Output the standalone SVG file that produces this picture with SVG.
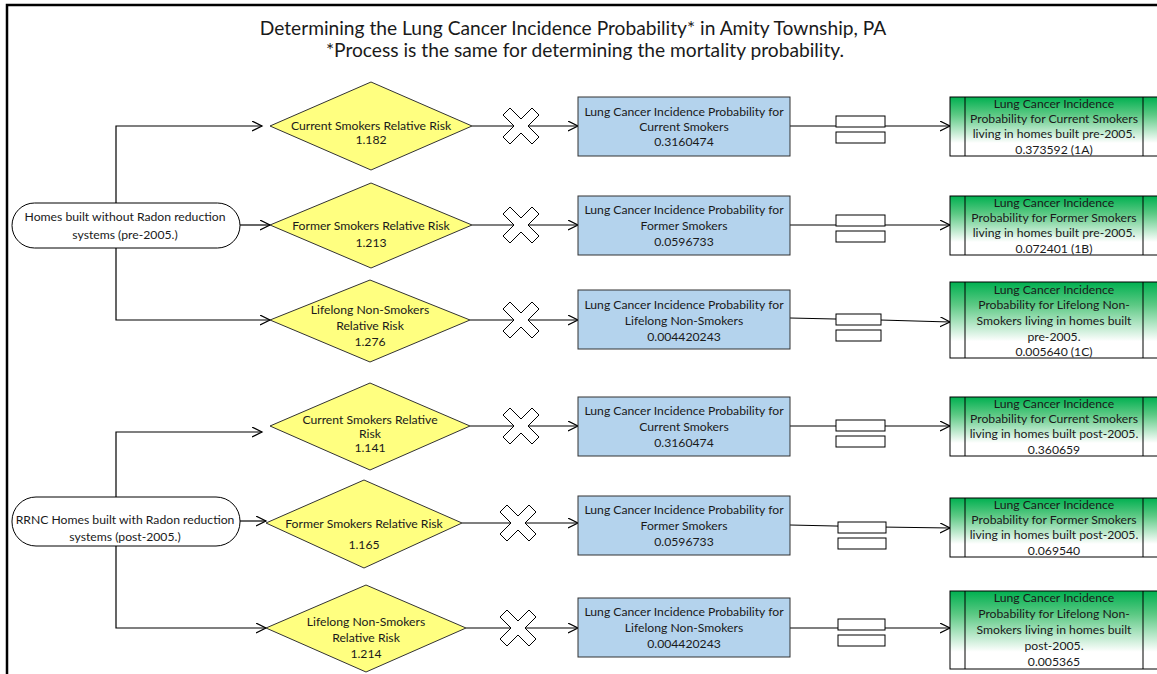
<svg xmlns="http://www.w3.org/2000/svg" width="1157" height="674" viewBox="0 0 1157 674">
<style>
text{font-family:Lato,"Liberation Sans",sans-serif;fill:#1a1a1a;text-anchor:middle}
.t{font-size:19.2px}
.n{font-size:12.2px}
.pill{fill:#fff;stroke:#000;stroke-width:1}
.dia{fill:#ffff80;stroke:#333;stroke-width:1}
.blue{fill:#b4d3ed;stroke:#333;stroke-width:1}
.green{fill:url(#gg);stroke:#000;stroke-width:1}
.gl{stroke:#000;stroke-width:1}
.c{fill:none;stroke:#000;stroke-width:1.2}
.ca{fill:none;stroke:#000;stroke-width:1.2;marker-end:url(#ar)}
.x{fill:#fff;stroke:#000;stroke-width:1}
.eq{fill:#fff;stroke:#000;stroke-width:1}
</style>
<defs>
<linearGradient id="gg" x1="0" y1="0" x2="0" y2="1">
<stop offset="0" stop-color="#00b050"/>
<stop offset="0.3" stop-color="#5cc984"/>
<stop offset="0.78" stop-color="#ffffff"/>
</linearGradient>
<marker id="ar" markerUnits="userSpaceOnUse" markerWidth="12" markerHeight="12" refX="10" refY="5" orient="auto">
<path d="M0,0 L10,5 L0,10" fill="none" stroke="#000" stroke-width="1.2"/>
</marker>
<polygon id="xs" points="-18,-11 -11,-18 0,-7 11,-18 18,-11 7,0 18,11 11,18 0,7 -11,18 -18,11 -7,0"/>
</defs>
<rect width="1157" height="674" fill="#fff"/>
<path d="M7,674 V5 H1157" fill="none" stroke="#000" stroke-width="2.5"/>
<g id="title">
<text class="t" x="573" y="35">Determining the Lung Cancer Incidence Probability* in Amity Township, PA</text>
<text class="t" x="585" y="57">*Process is the same for determining the mortality probability.</text>
</g>
<g id="connectors">
<path class="ca" d="M116,203 V126 H262"/>
<path class="ca" d="M240,225 H270"/>
<path class="ca" d="M116,248 V320 H270"/>
<path class="ca" d="M116,497 V432 H262"/>
<path class="ca" d="M240,521 H266"/>
<path class="ca" d="M116,546 V628 H266"/>
<path class="ca" d="M472,126 H578"/>
<path class="ca" d="M472,225 H578"/>
<path class="ca" d="M470,320 H578"/>
<path class="ca" d="M470,426 H578"/>
<path class="ca" d="M462,523 H578"/>
<path class="ca" d="M466,628 H578"/>
<path class="ca" d="M790,126 H950"/>
<path class="ca" d="M790,225 H950"/>
<path class="ca" d="M790,318 L880,320 L950,322"/>
<path class="ca" d="M790,426 H950"/>
<path class="ca" d="M790,525 L880,527 L950,528"/>
<path class="ca" d="M790,628 H950"/>
</g>
<g id="operators">
<use href="#xs" class="x" x="521" y="126"/>
<use href="#xs" class="x" x="521" y="225"/>
<use href="#xs" class="x" x="521" y="320"/>
<use href="#xs" class="x" x="521" y="426"/>
<use href="#xs" class="x" x="518" y="523"/>
<use href="#xs" class="x" x="518" y="628"/>
<g id="eq1"><rect class="eq" x="836" y="116" width="49" height="11"/><rect class="eq" x="836" y="132" width="49" height="11"/></g>
<g id="eq2"><rect class="eq" x="836" y="215" width="49" height="11"/><rect class="eq" x="836" y="231" width="49" height="11"/></g>
<g id="eq3"><rect class="eq" x="836" y="314" width="45" height="11"/><rect class="eq" x="836" y="330" width="45" height="11"/></g>
<g id="eq4"><rect class="eq" x="836" y="420" width="49" height="11"/><rect class="eq" x="836" y="436" width="49" height="11"/></g>
<g id="eq5"><rect class="eq" x="838" y="522" width="48" height="11"/><rect class="eq" x="838" y="538" width="48" height="11"/></g>
<g id="eq6"><rect class="eq" x="838" y="619" width="47" height="11"/><rect class="eq" x="838" y="635" width="47" height="11"/></g>
</g>
<g id="pill1">
<rect class="pill" x="12" y="203" width="228" height="45" rx="22.5"/>
<text class="n" x="125" y="221">Homes built without Radon reduction</text>
<text class="n" x="125" y="239">systems (pre-2005.)</text>
</g>
<g id="pill2">
<rect class="pill" x="12" y="497" width="228" height="49" rx="24"/>
<text class="n" x="125" y="524">RRNC Homes built with Radon reduction</text>
<text class="n" x="125" y="541">systems (post-2005.)</text>
</g>
<g id="d1">
<polygon class="dia" points="270,126 371,82 472,126 371,170"/>
<text class="n" x="371" y="130">Current Smokers Relative Risk</text>
<text class="n" x="371" y="144">1.182</text>
</g>
<g id="d2">
<polygon class="dia" points="270,225 371,183 472,225 371,268"/>
<text class="n" x="371" y="230">Former Smokers Relative Risk</text>
<text class="n" x="371" y="247">1.213</text>
</g>
<g id="d3">
<polygon class="dia" points="270,320 370,280 470,320 370,362"/>
<text class="n" x="370" y="314">Lifelong Non-Smokers</text>
<text class="n" x="370" y="330">Relative Risk</text>
<text class="n" x="370" y="346">1.276</text>
</g>
<g id="d4">
<polygon class="dia" points="270,426 370,383 470,426 370,470"/>
<text class="n" x="370" y="424">Current Smokers Relative</text>
<text class="n" x="370" y="438">Risk</text>
<text class="n" x="370" y="452">1.141</text>
</g>
<g id="d5">
<polygon class="dia" points="266,523 364,480 462,523 364,568"/>
<text class="n" x="364" y="528">Former Smokers Relative Risk</text>
<text class="n" x="364" y="549">1.165</text>
</g>
<g id="d6">
<polygon class="dia" points="266,628 366,585 466,628 366,672"/>
<text class="n" x="366" y="626">Lifelong Non-Smokers</text>
<text class="n" x="366" y="642">Relative Risk</text>
<text class="n" x="366" y="658">1.214</text>
</g>
<g id="b1">
<rect class="blue" x="578" y="97" width="212" height="59"/>
<text class="n" x="684" y="116">Lung Cancer Incidence Probability for</text>
<text class="n" x="684" y="131">Current Smokers</text>
<text class="n" x="684" y="146">0.3160474</text>
</g>
<g id="b2">
<rect class="blue" x="578" y="196" width="212" height="59"/>
<text class="n" x="684" y="214">Lung Cancer Incidence Probability for</text>
<text class="n" x="684" y="230">Former Smokers</text>
<text class="n" x="684" y="246">0.0596733</text>
</g>
<g id="b3">
<rect class="blue" x="578" y="290" width="212" height="59"/>
<text class="n" x="684" y="309">Lung Cancer Incidence Probability for</text>
<text class="n" x="684" y="325">Lifelong Non-Smokers</text>
<text class="n" x="684" y="341">0.004420243</text>
</g>
<g id="b4">
<rect class="blue" x="578" y="397" width="212" height="59"/>
<text class="n" x="684" y="415">Lung Cancer Incidence Probability for</text>
<text class="n" x="684" y="431">Current Smokers</text>
<text class="n" x="684" y="447">0.3160474</text>
</g>
<g id="b5">
<rect class="blue" x="578" y="496" width="212" height="59"/>
<text class="n" x="684" y="514">Lung Cancer Incidence Probability for</text>
<text class="n" x="684" y="530">Former Smokers</text>
<text class="n" x="684" y="546">0.0596733</text>
</g>
<g id="b6">
<rect class="blue" x="578" y="598" width="212" height="59"/>
<text class="n" x="684" y="616">Lung Cancer Incidence Probability for</text>
<text class="n" x="684" y="632">Lifelong Non-Smokers</text>
<text class="n" x="684" y="648">0.004420243</text>
</g>
<g id="g1">
<rect class="green" x="950" y="97" width="212" height="59"/>
<path class="gl" d="M965,97 V156 M1143,97 V156"/>
<text class="n" x="1054" y="108">Lung Cancer Incidence</text>
<text class="n" x="1054" y="123">Probability for Current Smokers</text>
<text class="n" x="1054" y="138">living in homes built pre-2005.</text>
<text class="n" x="1054" y="154">0.373592 (1A)</text>
</g>
<g id="g2">
<rect class="green" x="950" y="196" width="212" height="59"/>
<path class="gl" d="M965,196 V255 M1143,196 V255"/>
<text class="n" x="1054" y="207">Lung Cancer Incidence</text>
<text class="n" x="1054" y="222">Probability for Former Smokers</text>
<text class="n" x="1054" y="237">living in homes built pre-2005.</text>
<text class="n" x="1054" y="253">0.072401 (1B)</text>
</g>
<g id="g3">
<rect class="green" x="950" y="282" width="212" height="76"/>
<path class="gl" d="M965,282 V358 M1143,282 V358"/>
<text class="n" x="1054" y="294">Lung Cancer Incidence</text>
<text class="n" x="1054" y="309">Probability for Lifelong Non-</text>
<text class="n" x="1054" y="325">Smokers living in homes built</text>
<text class="n" x="1054" y="341">pre-2005.</text>
<text class="n" x="1054" y="356">0.005640 (1C)</text>
</g>
<g id="g4">
<rect class="green" x="950" y="397" width="212" height="59"/>
<path class="gl" d="M965,397 V456 M1143,397 V456"/>
<text class="n" x="1054" y="408">Lung Cancer Incidence</text>
<text class="n" x="1054" y="423">Probability for Current Smokers</text>
<text class="n" x="1054" y="438">living in homes built post-2005.</text>
<text class="n" x="1054" y="454">0.360659</text>
</g>
<g id="g5">
<rect class="green" x="950" y="498" width="212" height="59"/>
<path class="gl" d="M965,498 V557 M1143,498 V557"/>
<text class="n" x="1054" y="509">Lung Cancer Incidence</text>
<text class="n" x="1054" y="524">Probability for Former Smokers</text>
<text class="n" x="1054" y="539">living in homes built post-2005.</text>
<text class="n" x="1054" y="555">0.069540</text>
</g>
<g id="g6">
<rect class="green" x="950" y="591" width="212" height="78"/>
<path class="gl" d="M965,591 V669 M1143,591 V669"/>
<text class="n" x="1054" y="602">Lung Cancer Incidence</text>
<text class="n" x="1054" y="618">Probability for Lifelong Non-</text>
<text class="n" x="1054" y="634">Smokers living in homes built</text>
<text class="n" x="1054" y="650">post-2005.</text>
<text class="n" x="1054" y="666">0.005365</text>
</g>
</svg>
